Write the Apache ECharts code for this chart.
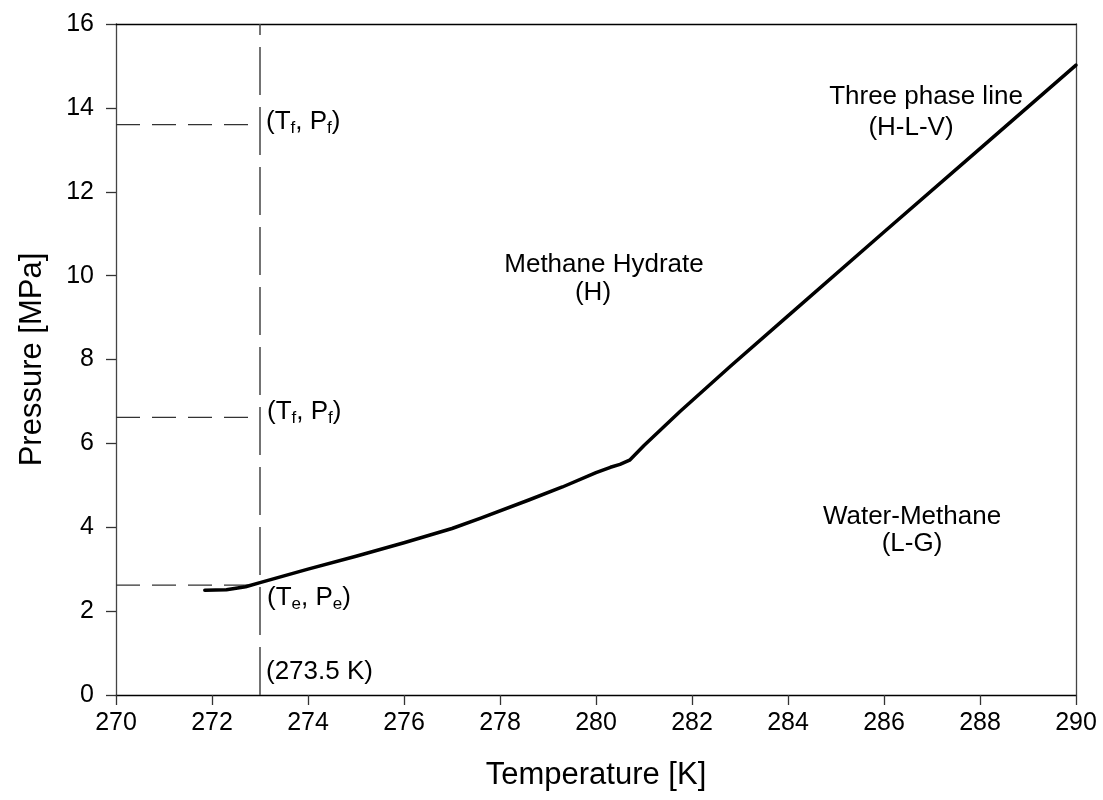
<!DOCTYPE html>
<html>
<head>
<meta charset="utf-8">
<script src="https://cdn.jsdelivr.net/npm/echarts@6/dist/echarts.min.js"></script>
<style>
  html, body { margin: 0; padding: 0; background: #fff; }
  #chart { width: 1103px; height: 800px; }
</style>
</head>
<body>
<div id="chart"></div>
<script>
// Methane hydrate three-phase equilibrium curve (H-L-V)
const temperatureK = [271.85, 272.3, 272.7, 273.0, 274.0, 275.0, 276.0, 277.0, 277.6, 278.6, 279.3, 280.0, 280.3, 280.5, 280.7, 281.0, 281.75, 282.8, 284.0, 286.0, 288.0, 290.0];
const pressureMPa = [2.50, 2.51, 2.58, 2.68, 3.00, 3.31, 3.63, 3.97, 4.22, 4.65, 4.96, 5.30, 5.43, 5.50, 5.60, 5.95, 6.76, 7.84, 9.04, 11.04, 13.03, 15.02];

// Reference state lines: freezing temperature and marked pressures
const freezeTemperature = 273.0;
const markedPressures = [13.6, 6.62, 2.62];

// Axis ranges and ticks
const xTicks = [270, 272, 274, 276, 278, 280, 282, 284, 286, 288, 290];
const yTicks = [0, 2, 4, 6, 8, 10, 12, 14, 16];

const font = '"Liberation Sans", Arial, sans-serif';
const curve = temperatureK.map((t, i) => [t, pressureMPa[i]]);

const guideSeries = markedPressures.map(p => ({
  type: 'line',
  data: [[xTicks[0], p], [freezeTemperature, p]],
  showSymbol: false,
  silent: true,
  lineStyle: { color: '#333', width: 1.3, type: [24, 12] },
  z: 1
}));
guideSeries.push({
  type: 'line',
  data: [[freezeTemperature, yTicks[0]], [freezeTemperature, yTicks[yTicks.length - 1]]],
  showSymbol: false,
  silent: true,
  lineStyle: { color: '#444', width: 1.5, type: [48, 12] },
  z: 1
});

const chart = echarts.init(document.getElementById('chart'), null, { renderer: 'canvas' });

const subRich = {
  n: { fontSize: 26, lineHeight: 30, fontFamily: font, color: '#000', verticalAlign: 'middle' },
  s: { fontSize: 17, lineHeight: 10, fontFamily: font, color: '#000', verticalAlign: 'bottom' }
};
function subText(x, y, text) {
  return {
    type: 'text', left: x, top: y - 15, z: 10,
    style: { text: text, rich: subRich, fill: '#000' }
  };
}
function plainText(cx, cy, text) {
  return {
    type: 'text', x: cx, y: cy, z: 10,
    style: { text: text, font: '26px ' + font, fill: '#000', align: 'center', verticalAlign: 'middle' }
  };
}

chart.setOption({
  animation: false,
  backgroundColor: '#fff',
  grid: { left: 116, right: 27, top: 24, bottom: 105, containLabel: false },
  xAxis: [{
    type: 'value',
    min: xTicks[0], max: xTicks[xTicks.length - 1], interval: 2,
    name: 'Temperature [K]', nameLocation: 'middle', nameGap: 65,
    nameTextStyle: { fontSize: 31, fontFamily: font, color: '#000' },
    axisLine: { show: true, onZero: false, lineStyle: { color: '#000', width: 1.3 } },
    axisTick: { show: true, length: 10, lineStyle: { color: '#333', width: 1.3 } },
    axisLabel: { fontSize: 25, fontFamily: font, color: '#000', margin: 16 },
    splitLine: { show: false }
  }, {
    type: 'value', position: 'top',
    min: xTicks[0], max: xTicks[xTicks.length - 1],
    axisLine: { show: true, onZero: false, lineStyle: { color: '#000', width: 1.3 } },
    axisTick: { show: false }, axisLabel: { show: false }, splitLine: { show: false }
  }],
  yAxis: [{
    type: 'value',
    min: yTicks[0], max: yTicks[yTicks.length - 1], interval: 2,
    name: 'Pressure [MPa]', nameLocation: 'middle', nameGap: 68,
    nameTextStyle: { fontSize: 31, fontFamily: font, color: '#000' },
    axisLine: { show: true, onZero: false, lineStyle: { color: '#444', width: 1.3 } },
    axisTick: { show: true, length: 10, lineStyle: { color: '#333', width: 1.3 } },
    axisLabel: { fontSize: 25, fontFamily: font, color: '#000', margin: 22 },
    splitLine: { show: false }
  }, {
    type: 'value', position: 'right',
    min: yTicks[0], max: yTicks[yTicks.length - 1],
    axisLine: { show: true, onZero: false, lineStyle: { color: '#444', width: 1.3 } },
    axisTick: { show: false }, axisLabel: { show: false }, splitLine: { show: false }
  }],
  series: guideSeries.concat([{
    type: 'line',
    data: curve,
    smooth: false,
    showSymbol: false,
    silent: true,
    lineStyle: { color: '#000', width: 3.5, join: 'round', cap: 'round' },
    z: 5
  }]),
  graphic: [
    subText(266, 124, '{n|(T}{s|f}{n|, P}{s|f}{n|)}'),
    subText(267, 414, '{n|(T}{s|f}{n|, P}{s|f}{n|)}'),
    subText(267, 600, '{n|(T}{s|e}{n|, P}{s|e}{n|)}'),
    {
      type: 'text', left: 266, top: 659, z: 10,
      style: { text: '(273.5 K)', font: '26px ' + font, fill: '#000' }
    },
    plainText(926, 97, 'Three phase line'),
    plainText(911, 128, '(H-L-V)'),
    plainText(604, 265, 'Methane Hydrate'),
    plainText(593, 293, '(H)'),
    plainText(912, 517, 'Water-Methane'),
    plainText(912, 544, '(L-G)')
  ]
});
</script>
</body>
</html>
